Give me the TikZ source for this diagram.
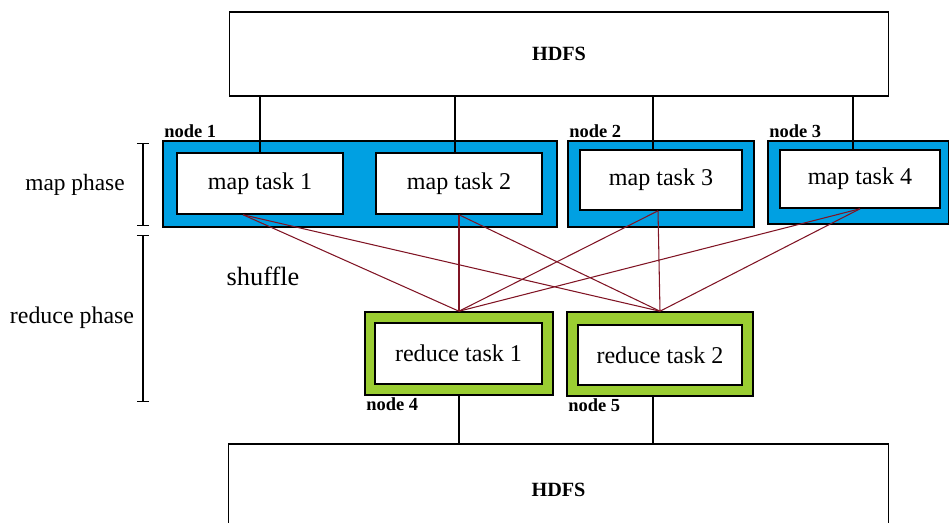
\documentclass[tikz,border=0pt]{standalone}
\usepackage{fontspec}
\setmainfont{Liberation Serif}
\usetikzlibrary{arrows.meta}
\usetikzlibrary{calc}

\definecolor{mapblue}{RGB}{0,160,226}
\definecolor{redgreen}{RGB}{154,205,50}
\definecolor{shufred}{RGB}{128,20,36}

\begin{document}
\begin{tikzpicture}[x=0.02cm,y=-0.02cm,
	hdfs/.style={draw,line width=0.6pt,fill=white,font=\fontsize{11.5}{13}\selectfont\bfseries},
	task/.style={draw,line width=0.9pt,fill=white,inner sep=0pt,font=\fontsize{13.7}{16}\selectfont},
	mapnode/.style={draw,line width=0.9pt,fill=mapblue,inner sep=0pt},
	rednode/.style={draw,line width=0.9pt,fill=redgreen,inner sep=0pt},
	lbl/.style={font=\fontsize{10.5}{12}\selectfont\bfseries,inner sep=1pt},
	phase/.style={line width=0.6pt,{Bar[width=7pt]}-{Bar[width=7pt]}},
	shuf/.style={draw=shufred,line width=0.6pt}]
	\clip (0,0) rectangle (949,523);
	\draw (559,54) node(top) [hdfs,minimum width=13.2cm,minimum height=1.68cm] {HDFS};
	\draw (558.5,490) node(bottom) [hdfs,minimum width=13.22cm,minimum height=1.84cm] {HDFS};
	
	\draw (360,184) node(n1) [mapnode,minimum width=7.88cm,minimum height=1.72cm] {};
	\draw (661,184) node(n2) [mapnode,minimum width=3.72cm,minimum height=1.72cm] {};
	\draw (858.5,182.5) node(n3) [mapnode,minimum width=3.62cm,minimum height=1.66cm] {};
	\draw (459,353.5) node(n4) [rednode,minimum width=3.76cm,minimum height=1.66cm] {};
	\draw (660,354) node(n5) [rednode,minimum width=3.72cm,minimum height=1.68cm] {};
	\node [lbl,above right] at (n1.north west) {node 1};
	\node [lbl,above right] at (n2.north west) {node 2};
	\node [lbl,above right] at (n3.north west) {node 3};
	\node [lbl,below right] at (n4.south west) {node 4};
	\node [lbl,below right] at (n5.south west) {node 5};
	
	\draw (260,183.5) node(m1) [task,minimum width=3.32cm,minimum height=1.22cm] {map task 1};
	\draw (459,183.5) node(m2) [task,minimum width=3.32cm,minimum height=1.22cm] {map task 2};
	\draw (661,180) node(m3) [task,minimum width=3.24cm,minimum height=1.2cm] {map task 3};
	\draw (860,179) node(m4) [task,minimum width=3.2cm,minimum height=1.16cm] {map task 4};
	\draw (458.5,353.5) node(r1) [task,minimum width=3.34cm,minimum height=1.22cm] {reduce task 1};
	\draw (660,355) node(r2) [task,minimum width=3.28cm,minimum height=1.2cm] {reduce task 2};
	
	% HDFS to the tasks
	\draw[line width=0.6pt] (top.south -| m1.north) -- (m1.north);
	\draw[line width=0.6pt] ([xshift=-0.08cm]top.south -| m2.north) -- ([xshift=-0.08cm]m2.north);
	\draw[line width=0.6pt] ([xshift=-0.16cm]top.south -| m3.north) -- ([xshift=-0.16cm]m3.north);
	\draw[line width=0.6pt] ([xshift=-0.14cm]top.south -| m4.north) -- ([xshift=-0.14cm]m4.north);
	\draw[line width=0.6pt] (n4.south) -- (n4.south |- bottom.north);
	\draw[line width=0.6pt] ([xshift=-0.14cm]n5.south) -- ([xshift=-0.14cm]n5.south |- bottom.north);
	
	% shuffle
	\draw[shuf] ([xshift=-0.34cm]m1.south) -- (n4.north);
	\draw[shuf] ([xshift=-0.34cm]m1.south) -- (n5.north);
	\draw[shuf] (m2.south) -- (n4.north);
	\draw[shuf] (m2.south) -- (n5.north);
	\draw[shuf] ([xshift=-0.06cm]m3.south) -- (n4.north);
	\draw[shuf] ([xshift=-0.06cm]m3.south) -- (n5.north);
	\draw[shuf] (m4.south) -- (n4.north);
	\draw[shuf] (m4.south) -- (n5.north);
	\node (shuffle) at (263,276) {\fontsize{15}{17}\selectfont shuffle};
	
	% phases
	\coordinate (maptop) at (143,143);
	\coordinate (mapbot) at (143,226);
	\coordinate (redtop) at (143,235);
	\coordinate (redbot) at (143,402);
	\draw[phase] (maptop) -- (mapbot);
	\draw[phase] (redtop) -- (redbot);
	\node (mapphase) at (75,185) {\fontsize{13.3}{16}\selectfont map phase};
	\node (redphase) at (72,318) {\fontsize{13.6}{16}\selectfont reduce phase};
\end{tikzpicture}
\end{document}
